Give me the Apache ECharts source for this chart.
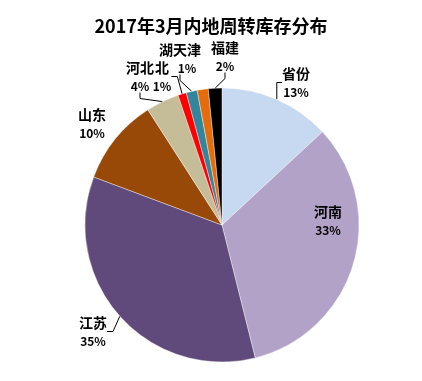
<!DOCTYPE html>
<html>
<head>
<meta charset="utf-8">
<script src="https://cdn.jsdelivr.net/npm/echarts@6/dist/echarts.min.js"></script>
<style>html,body{margin:0;padding:0;background:#fff;}#c{width:422px;height:381px;}</style>
</head>
<body>
<div id="c"></div>
<script>
// ---- data ----
var titleText = '2017年3月内地周转库存分布';
var categories = ['省份', '河南', '江苏', '山东', '河北', '湖北', '天津', '其他', '福建'];
var labelNames = ['省份', '河南', '江苏', '山东', '河北', '北', '湖天津', '', '福建'];
var values = [13.1, 33.0, 34.6, 10.2, 3.9, 1.0, 1.3, 1.3, 1.6];
var colors = ['#C6D9F1', '#B3A2C7', '#604A7B', '#984807', '#C4BD97', '#FF0000', '#31859C', '#E46C0A', '#000000'];

// ---- layout / style ----
var labelPos = [[296, 83], [328, 221], [93, 332], [92, 124], [140, 77], [162, 77], [180, 59], null, [225, 57]];
var noLine = {1: true, 3: true, 7: true};

var data = categories.map(function (c, i) {
  var item = { name: c, value: values[i], itemStyle: { color: colors[i] } };
  if (!labelNames[i]) item.label = { show: false };
  if (noLine[i]) item.labelLine = { show: false };
  return item;
});

var chart = echarts.init(document.getElementById('c'));
chart.setOption({
  animation: false,
  title: {
    text: titleText, left: 'center', top: 12,
    textStyle: { fontFamily: 'Noto Sans CJK SC', fontSize: 18, fontWeight: 'bold', color: '#000' }
  },
  series: [{
    type: 'pie',
    center: [222, 225],
    radius: 137,
    startAngle: 90,
    clockwise: true,
    avoidLabelOverlap: false,
    itemStyle: { borderColor: '#fff', borderWidth: 0.4 },
    label: {
      show: true,
      position: 'outside',
      fontFamily: 'Noto Sans CJK SC',
      color: '#000',
      formatter: function (p) {
        var n = labelNames[p.dataIndex];
        var pct = Math.round(p.value) + '%';
        if (p.dataIndex === 6) return '{n|' + n + '}\n{q|' + pct + '}';
        return '{n|' + n + '}\n{p|' + pct + '}';
      },
      rich: {
        n: { fontFamily: 'Noto Sans CJK SC', fontSize: 14, fontWeight: 'bold', lineHeight: 19, color: '#000' },
        p: { fontFamily: 'Noto Sans CJK SC', fontSize: 12, fontWeight: 'bold', lineHeight: 19, color: '#000' },
        q: { fontFamily: 'Noto Sans CJK SC', fontSize: 12, fontWeight: 'bold', lineHeight: 19, color: '#000', padding: [0, 0, 0, 14] }
      }
    },
    labelLine: { show: true, length: 6, length2: 6, lineStyle: { color: '#000', width: 1 } },
    labelLayout: function (params) {
      var p = labelPos[params.dataIndex];
      if (!p) return {};
      return { x: p[0], y: p[1], align: 'center', verticalAlign: 'middle' };
    },
    data: data
  }]
});
</script>
</body>
</html>
